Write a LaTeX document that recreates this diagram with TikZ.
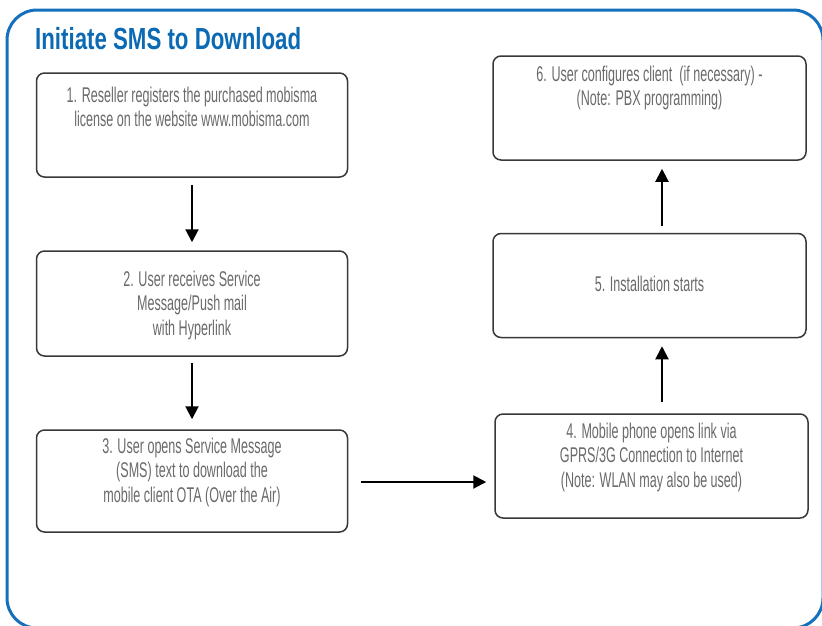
\documentclass[tikz,border=0pt]{standalone}
\usepackage{fontspec}
\usetikzlibrary{arrows.meta}
\newfontfamily\bodyfont{Liberation Sans}[FakeStretch=0.59]
\newfontfamily\titlefont{Liberation Sans}[FakeStretch=0.73]
\definecolor{frameblue}{HTML}{1470BD}
\definecolor{titleblue}{HTML}{0B6AB3}
\definecolor{txtgray}{HTML}{6A6A6A}
\definecolor{boxline}{HTML}{383838}
\tikzset{
  stepbox/.style={draw=boxline, line width=1.5pt, rounded corners=8pt, rectangle, fill=white},
  steptext/.style={text=txtgray, align=center, font=\bodyfont\fontsize{21.3pt}{24.5pt}\selectfont, inner sep=0pt},
  arr/.style={draw=black, line width=2pt, -{Triangle[width=13pt,length=13pt]}}
}
\begin{document}
\begin{tikzpicture}[x=1pt,y=-1pt]
\useasboundingbox (0,0) rectangle (822,625);
\draw[frameblue, line width=3pt, rounded corners=30pt] (7,10) rectangle (823,628);
\node[anchor=base west, text=titleblue, inner sep=0pt, font=\titlefont\bfseries\fontsize{30.5pt}{34pt}\selectfont] (title) at (35,49) {Initiate SMS to Download};
% boxes
\node[stepbox, minimum width=311pt, minimum height=104pt] (b1) at (192,125) {};
\node[stepbox, minimum width=311pt, minimum height=105pt] (b2) at (192,303.5) {};
\node[stepbox, minimum width=311pt, minimum height=102pt] (b3) at (192,481) {};
\node[stepbox, minimum width=313pt, minimum height=104pt] (b4) at (651.5,466) {};
\node[stepbox, minimum width=313pt, minimum height=104pt] (b5) at (649.5,285.5) {};
\node[stepbox, minimum width=313pt, minimum height=104pt] (b6) at (649.5,108) {};
% texts
\node[steptext] (t1) at (192,107) {1. Reseller registers the purchased mobisma\\license on the website www.mobisma.com};
\node[steptext] (t2) at (192,305) {2. User receives Service\\Message/Push mail\\with Hyperlink};
\node[steptext] (t3) at (192,472) {3. User opens Service Message\\(SMS) text to download the\\mobile client OTA (Over the Air)};
\node[steptext] (t4) at (651.5,457) {4. Mobile phone opens link via\\GPRS/3G Connection to Internet\\(Note: WLAN may also be used)};
\node[steptext] (t5) at (649.5,284) {5. Installation starts};
\node[steptext] (t6) at (649.5,88) {6. User configures client~~(if necessary) -\\(Note: PBX programming)};
% connectors
\coordinate (h) at (0,482);
\coordinate (v) at (662,0);
\draw[arr, shorten <=7pt, shorten >=8pt] (b1.south) -- (b2.north);
\draw[arr, shorten <=6pt, shorten >=10pt] (b2.south) -- (b3.north);
\draw[arr, shorten <=13pt, shorten >=8pt] (b3.east |- h) -- (b4.west |- h);
\draw[arr, shorten <=11pt, shorten >=8pt] (b4.north -| v) -- (b5.south -| v);
\draw[arr, shorten <=6.5pt, shorten >=8pt] (b5.north -| v) -- (b6.south -| v);
\end{tikzpicture}
\end{document}
